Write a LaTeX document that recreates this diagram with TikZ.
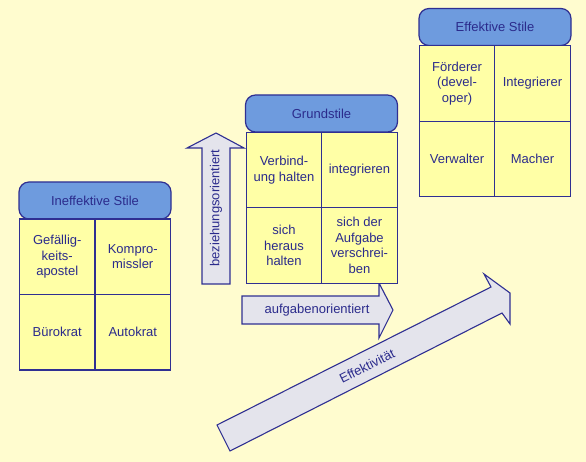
\documentclass[tikz,border=0pt]{standalone}
\usepackage{fontspec}
\setmainfont{Liberation Sans}
\definecolor{bg}{HTML}{FFFCCF}
\definecolor{cellfill}{HTML}{FFFFA6}
\definecolor{headfill}{HTML}{6E9BDE}
\definecolor{edge}{HTML}{2F2F92}
\definecolor{txt}{HTML}{2B2B8C}
\definecolor{arrowfill}{HTML}{E4E4EC}
\newcommand{\fs}{\fontsize{13}{15.5}\selectfont}
\tikzset{
  cell/.style={draw=edge, fill=cellfill, line width=1.2pt, minimum width=75.5pt, minimum height=75.5pt, inner sep=0pt, align=center, text=txt, font=\fs},
  headbox/.style={draw=edge, fill=headfill, line width=1.2pt, rounded corners=10pt, minimum width=152pt, minimum height=37pt, inner sep=0pt, text=txt, font=\fs},
  arrowshape/.style={draw=edge, fill=arrowfill, line width=1.1pt, line join=miter},
  lbl/.style={text=txt, font=\fs, inner sep=0pt}
}
\begin{document}
\begin{tikzpicture}[x=1pt,y=-1pt]
\fill[bg] (0,0) rectangle (586,462);
\useasboundingbox (0,0) rectangle (586,462);

% big arrow
\draw[arrowshape] (217,425) -- (491,287) -- (484,274) -- (510,293) -- (510,324) -- (502,313) -- (230,451) -- cycle;
\node[lbl, rotate=26.7] (eff) at (367,366) {Effektivität};

% vertical arrow
\draw[arrowshape] (202,284) -- (202,148) -- (187,148) -- (216,133) -- (244,148) -- (230,148) -- (230,284) -- cycle;
\node[lbl, rotate=90] (bez) at (216,208) {beziehungsorientiert};

% horizontal arrow
\draw[arrowshape] (242,296) -- (379,296) -- (379,283) -- (393,310) -- (379,338) -- (379,324) -- (242,324) -- cycle;
\node[lbl] (auf) at (317,310) {aufgabenorientiert};

% Ineffektive Stile
\node[headbox] (h1) at (95,200.5) {Ineffektive Stile};
\node[cell] (a11) at (57.25,256.75) {Gefällig-\\keits-\\apostel};
\node[cell] (a12) at (132.75,256.75) {Kompro-\\missler};
\node[cell] (a21) at (57.25,332.25) {Bürokrat};
\node[cell] (a22) at (132.75,332.25) {Autokrat};

% Grundstile
\node[headbox] (h2) at (321.5,113.5) {Grundstile};
\node[cell] (b11) at (284,170) {Verbind-\\ung halten};
\node[cell] (b12) at (359.5,170) {integrieren};
\node[cell] (b21) at (284,245.5) {sich\\heraus\\halten};
\node[cell] (b22) at (359.5,245.5) {sich der\\Aufgabe\\verschrei-\\ben};

% Effektive Stile
\node[headbox] (h3) at (495,27) {Effektive Stile};
\node[cell] (c11) at (457,83.5) {Förderer\\(devel-\\oper)};
\node[cell] (c12) at (532.5,83.5) {Integrierer};
\node[cell] (c21) at (457,159) {Verwalter};
\node[cell] (c22) at (532.5,159) {Macher};
\end{tikzpicture}
\end{document}
